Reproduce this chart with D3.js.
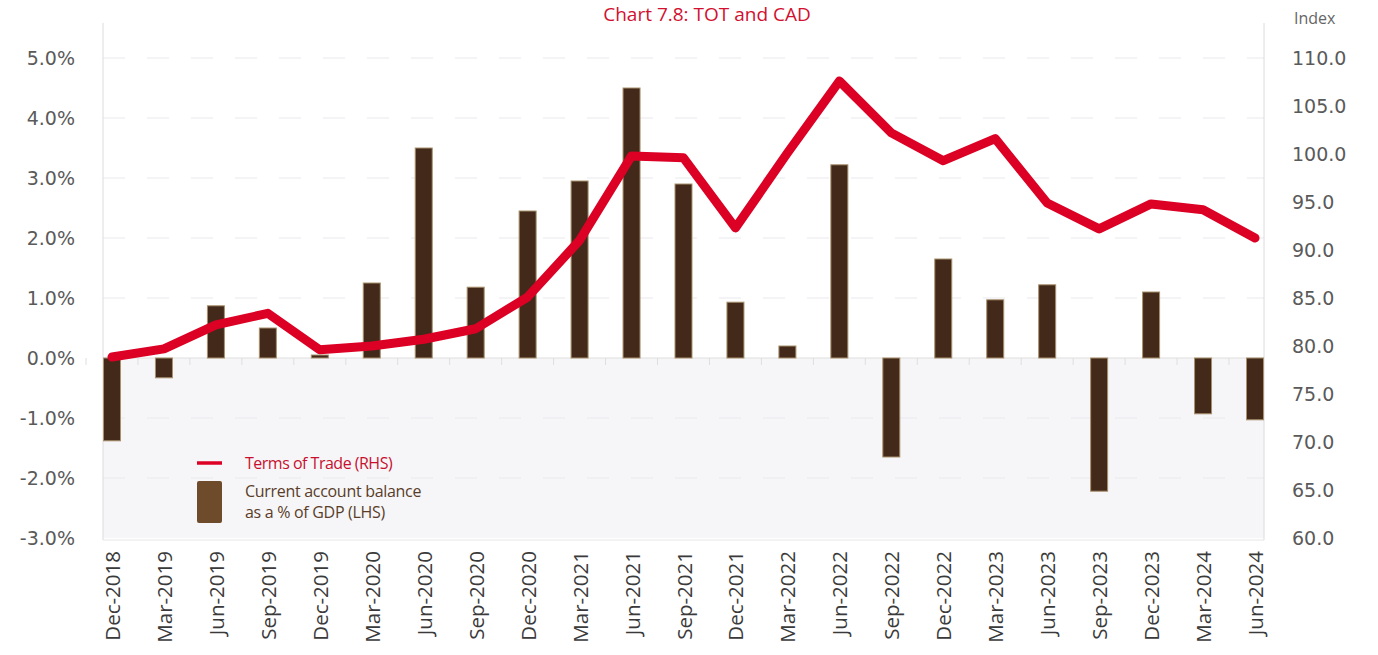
<!DOCTYPE html>
<html><head><meta charset="utf-8">
<script src="https://cdn.jsdelivr.net/npm/d3@7"></script>
<style>body{margin:0;background:#fff}svg{display:block}</style>
</head><body>
<script>
const categories = ["Dec-2018","Mar-2019","Jun-2019","Sep-2019","Dec-2019","Mar-2020","Jun-2020","Sep-2020","Dec-2020","Mar-2021","Jun-2021","Sep-2021","Dec-2021","Mar-2022","Jun-2022","Sep-2022","Dec-2022","Mar-2023","Jun-2023","Sep-2023","Dec-2023","Mar-2024","Jun-2024"];
const cadValues = [-1.38,-0.33,0.87,0.5,0.05,1.25,3.5,1.18,2.45,2.95,4.5,2.9,0.93,0.2,3.22,-1.65,1.65,0.97,1.22,-2.22,1.1,-0.93,-1.03];
const totValues = [78.85,79.7,82.2,83.4,79.6,80.0,80.7,81.8,85.1,91.0,99.8,99.6,92.3,100.1,107.6,102.2,99.3,101.6,94.9,92.2,94.8,94.2,91.25];
const leftTicks = [-3,-2,-1,0,1,2,3,4,5];
const rightTicks = [60,65,70,75,80,85,90,95,100,105,110];

const W = 1378, H = 655;
const svg = d3.select("body").append("svg").attr("width", W).attr("height", H);

const plotL = 103, plotR = 1264, plotT = 58, plotB = 538;
const x = d3.scalePoint().domain(categories).range([112, 1255]);
const yL = d3.scaleLinear().domain([-3, 5]).range([plotB, plotT]);
const yR = d3.scaleLinear().domain([60, 110]).range([plotB, plotT]);

// negative region background
svg.append("rect").attr("x", plotL).attr("y", yL(0)).attr("width", plotR - plotL).attr("height", plotB - yL(0)).attr("fill", "#f6f6f9");

// gridlines
svg.append("g").selectAll("line").data(leftTicks.filter(d => d !== 0 && d !== -3)).join("line")
  .attr("x1", plotL).attr("x2", plotR).attr("y1", d => yL(d)).attr("y2", d => yL(d))
  .attr("stroke", "#e9e9ee").attr("stroke-width", 1).attr("stroke-dasharray", "22,22");

// frame lines
svg.append("line").attr("x1", plotL).attr("x2", plotL).attr("y1", plotT - 35).attr("y2", plotB + 2).attr("stroke", "#dcdcdc");
svg.append("line").attr("x1", plotR).attr("x2", plotR).attr("y1", plotT - 35).attr("y2", plotB + 2).attr("stroke", "#dcdcdc");
svg.append("line").attr("x1", plotL).attr("x2", plotR).attr("y1", plotB + 2).attr("y2", plotB + 2).attr("stroke", "#e6e6e6");

// zero line and ticks
svg.append("line").attr("x1", plotL).attr("x2", plotR).attr("y1", yL(0)).attr("y2", yL(0)).attr("stroke", "#dedede");
svg.append("g").selectAll("line").data(categories).join("line")
  .attr("x1", d => x(d) - 26).attr("x2", d => x(d) - 26).attr("y1", yL(0)).attr("y2", yL(0) + 7)
  .attr("stroke", "#dedede");

// bars
const bw = 17;
svg.append("g").selectAll("rect").data(categories).join("rect")
  .attr("x", d => x(d) - bw / 2)
  .attr("y", (d, i) => yL(Math.max(0, cadValues[i])))
  .attr("width", bw)
  .attr("height", (d, i) => Math.abs(yL(cadValues[i]) - yL(0)))
  .attr("fill", "#43291a").attr("stroke", "#a8916c").attr("stroke-width", 1);

// line
const line = d3.line().x((d, i) => x(categories[i])).y(d => yR(d));
svg.append("path").datum(totValues).attr("d", line)
  .attr("fill", "none").attr("stroke", "#dc0025").attr("stroke-width", 9)
  .attr("stroke-linejoin", "round").attr("stroke-linecap", "round");

// left axis labels
svg.append("g").selectAll("text").data(leftTicks).join("text")
  .attr("x", 75).attr("y", d => yL(d)).attr("dy", "0.36em").attr("text-anchor", "end")
  .attr("font-family", "DejaVu Sans, Verdana, sans-serif").attr("font-size", 19).attr("fill", "#5a5a5a")
  .text(d => d.toFixed(1) + "%");

// right axis labels
svg.append("g").selectAll("text").data(rightTicks).join("text")
  .attr("x", 1292).attr("y", d => yR(d)).attr("dy", "0.36em").attr("text-anchor", "start")
  .attr("font-family", "DejaVu Sans, Verdana, sans-serif").attr("font-size", 19).attr("fill", "#5a5a5a")
  .text(d => d.toFixed(1));
svg.append("text").attr("x", 1294).attr("y", 24).attr("font-family", "Open Sans, sans-serif").attr("font-size", 16).attr("fill", "#666").text("Index");

// x labels
svg.append("g").selectAll("text").data(categories).join("text")
  .attr("transform", d => `translate(${x(d) + 8},551) rotate(-90)`)
  .attr("text-anchor", "end")
  .attr("font-family", "Open Sans, sans-serif").attr("font-size", 20.5).attr("fill", "#3a3a3a")
  .text(d => d);

// title
svg.append("text").attr("x", 707).attr("y", 21).attr("text-anchor", "middle")
  .attr("font-family", "Open Sans, sans-serif").attr("font-size", 19).attr("fill", "#d2102f")
  .text("Chart 7.8: TOT and CAD");

// legend
svg.append("line").attr("x1", 197).attr("x2", 222).attr("y1", 463).attr("y2", 463).attr("stroke", "#dc0025").attr("stroke-width", 3.5);
svg.append("text").attr("x", 245).attr("y", 469).attr("font-family", "Open Sans, sans-serif").attr("font-size", 16).attr("fill", "#c8102e").attr("letter-spacing", -0.5).text("Terms of Trade (RHS)");
svg.append("rect").attr("x", 197).attr("y", 481).attr("width", 25).attr("height", 42).attr("rx", 2).attr("fill", "#6e4b2b");
svg.append("text").attr("x", 245).attr("y", 497).attr("font-family", "Open Sans, sans-serif").attr("font-size", 16).attr("fill", "#5a3d28").attr("letter-spacing", -0.3).text("Current account balance");
svg.append("text").attr("x", 245).attr("y", 518).attr("font-family", "Open Sans, sans-serif").attr("font-size", 16).attr("fill", "#5a3d28").attr("letter-spacing", -0.3).text("as a % of GDP (LHS)");
</script>
</body></html>
